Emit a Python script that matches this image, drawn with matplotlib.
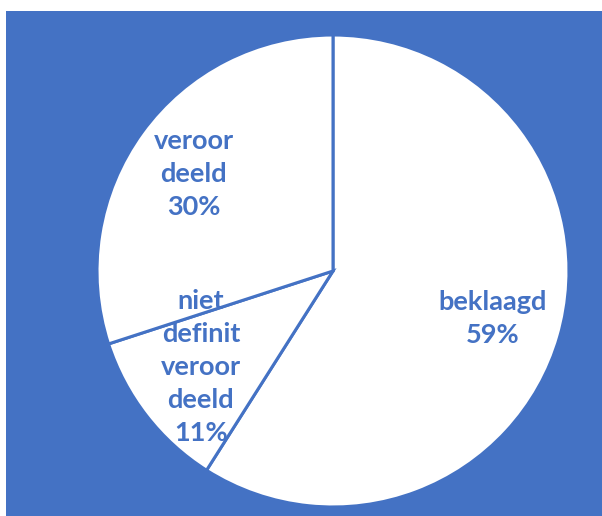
import matplotlib
matplotlib.use("Agg")
import matplotlib.pyplot as plt
from matplotlib.patches import Rectangle

# data
labels = ["beklaagd", "niet\ndefinit\nveroor\ndeeld", "veroor\ndeeld"]
values = [59, 11, 30]
pcts = ["59%", "11%", "30%"]
label_pos = [(0.678, -0.20), (-0.56, -0.405), (-0.59, 0.41)]

blue = "#4472C4"

fig = plt.figure(figsize=(6.02, 5.16), dpi=100)
fig.patch.set_facecolor("white")
# blue chart area, white strip at left and top
bg = Rectangle((6 / 602, 0), 1, 1 - 11 / 516, transform=fig.transFigure,
               facecolor=blue, edgecolor="none", zorder=-10)
fig.add_artist(bg)

ax = fig.add_axes([97 / 602, 9 / 516, 472 / 602, 472 / 516])
ax.set_zorder(1)
ax.set_facecolor("none")
ax.pie(values, startangle=90, counterclock=False, radius=1,
       colors=["white"] * 3,
       wedgeprops=dict(edgecolor=blue, linewidth=2.2))
ax.set_xlim(-1, 1)
ax.set_ylim(-1, 1)
ax.set_aspect("equal")
ax.axis("off")

for lab, p, (x, y) in zip(labels, pcts, label_pos):
    ax.text(x, y, lab + "\n" + p, ha="center", va="center", color=blue,
            fontsize=19.5, fontweight="bold", family="Lato", linespacing=1.45)

fig.savefig("out.png", dpi=100)
